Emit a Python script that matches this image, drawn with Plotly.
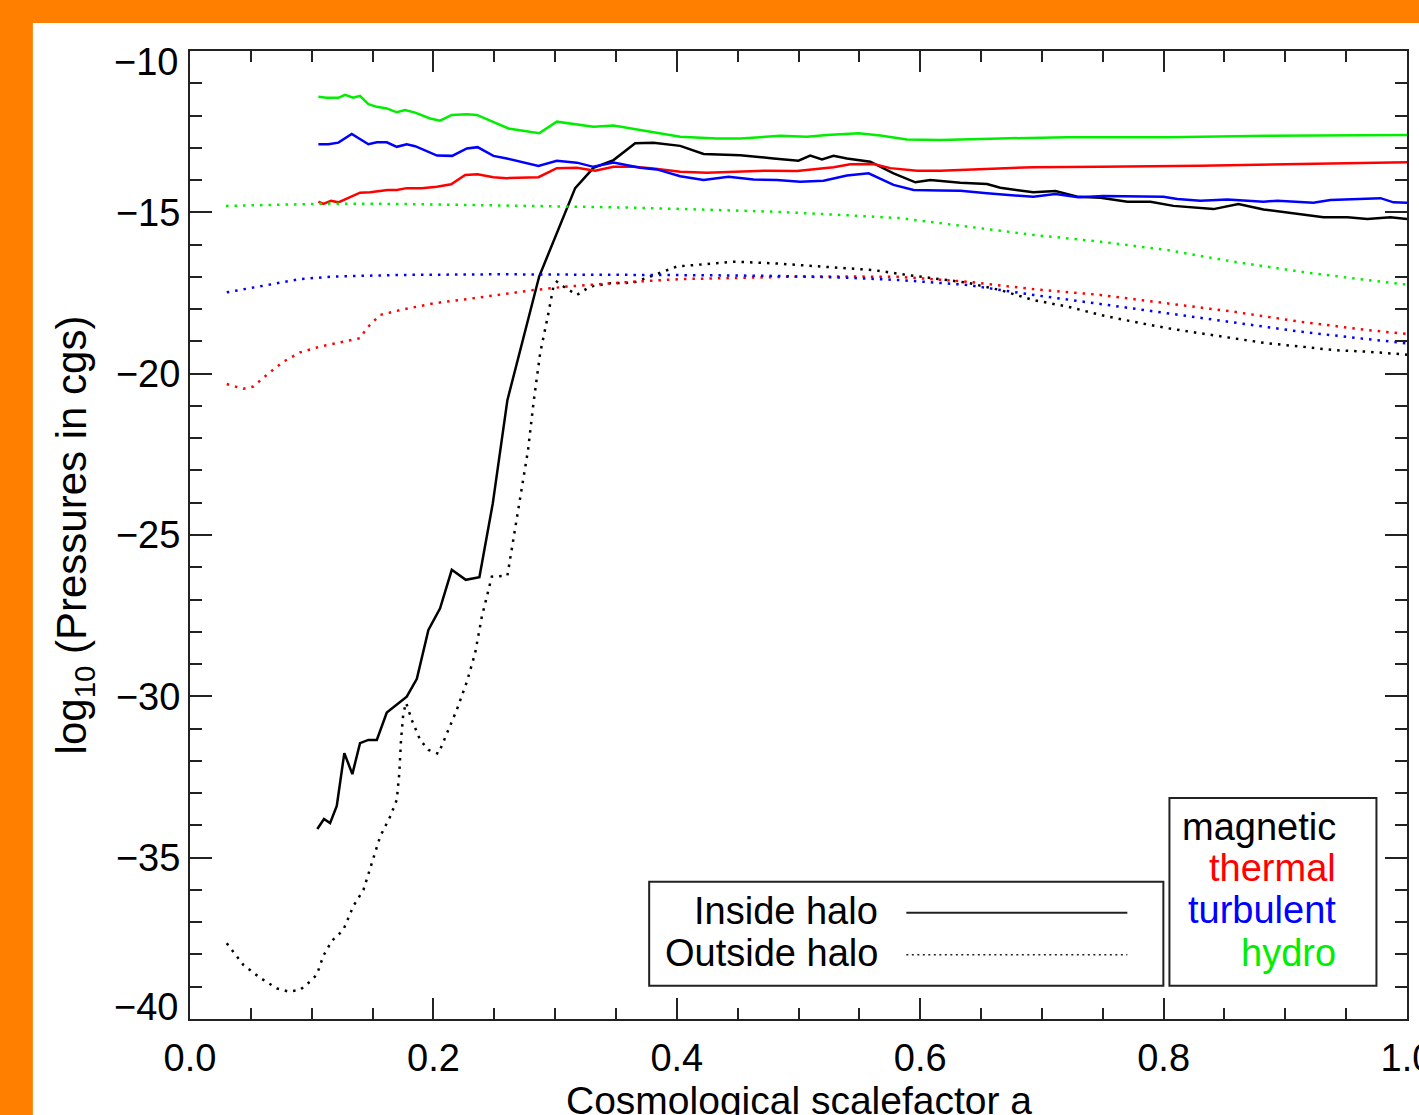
import plotly.graph_objects as go

# ---- magnetic pressure (black) ----
mag_in_a = [0.1046, 0.1101, 0.1151, 0.1206, 0.1268, 0.1334, 0.1397, 0.1466, 0.1535, 0.1617,
            0.1781, 0.1864, 0.1959, 0.2055, 0.2151, 0.2266, 0.2378, 0.2488, 0.2608, 0.2869,
            0.3165, 0.3315, 0.3480, 0.3658, 0.3808, 0.4028, 0.4220, 0.4521, 0.4795, 0.5000,
            0.5096, 0.5193, 0.5288, 0.5398, 0.5590, 0.5781, 0.5960, 0.6083, 0.6330, 0.6549,
            0.6658, 0.6930, 0.7111, 0.7300, 0.7481, 0.7703, 0.7892, 0.8081, 0.8410, 0.8615,
            0.8821, 0.9067, 0.9314, 0.9511, 0.9675, 0.9864, 1.0]
mag_in_p = [-34.11, -33.80, -33.93, -33.40, -31.76, -32.41, -31.45, -31.35, -31.35, -30.50,
            -30.01, -29.46, -27.94, -27.27, -26.08, -26.39, -26.31, -24.02, -20.82, -16.99,
            -14.25, -13.62, -13.38, -12.86, -12.84, -12.94, -13.19, -13.23, -13.33, -13.40,
            -13.24, -13.36, -13.25, -13.33, -13.43, -13.79, -14.07, -14.00, -14.08, -14.12,
            -14.24, -14.38, -14.34, -14.52, -14.55, -14.67, -14.67, -14.80, -14.90, -14.74,
            -14.91, -15.03, -15.15, -15.15, -15.21, -15.15, -15.21]

mag_out_a = [0.0302, 0.0438, 0.0575, 0.0713, 0.0808, 0.0904, 0.0986, 0.1042, 0.1096, 0.1165,
             0.1260, 0.1342, 0.1425, 0.1494, 0.1562, 0.1644, 0.1699, 0.1720, 0.1734, 0.1753,
             0.1776, 0.1822, 0.1891, 0.1959, 0.2041, 0.2123, 0.2192, 0.2275, 0.2343, 0.2398,
             0.2480, 0.2608, 0.2658, 0.2713, 0.2778, 0.2822, 0.2877, 0.2945, 0.2986, 0.3014,
             0.3069, 0.3179, 0.3288, 0.3453, 0.3644, 0.3781, 0.3918, 0.4001, 0.4247, 0.4466,
             0.4795, 0.5069, 0.5343, 0.5617, 0.5891, 0.6107, 0.6385, 0.6658, 0.6930, 0.7209,
             0.7481, 0.7752, 0.8031, 0.8303, 0.8574, 0.8853, 0.9125, 0.9396, 0.9675, 1.0]
mag_out_p = [-37.65, -38.32, -38.72, -39.05, -39.15, -39.10, -38.84, -38.63, -38.04, -37.58,
             -37.24, -36.50, -36.00, -35.15, -34.35, -33.73, -33.21, -32.38, -31.35, -30.52,
             -30.20, -30.73, -31.35, -31.66, -31.78, -31.04, -30.42, -29.55, -28.66, -27.53,
             -26.29, -26.26, -25.15, -23.81, -22.36, -20.92, -19.37, -18.13, -17.30, -17.15,
             -17.30, -17.56, -17.30, -17.20, -17.18, -16.99, -16.79, -16.68, -16.60, -16.53,
             -16.58, -16.65, -16.70, -16.79, -16.94, -17.04, -17.18, -17.41, -17.72, -17.92,
             -18.18, -18.39, -18.59, -18.75, -18.90, -19.06, -19.16, -19.27, -19.32, -19.41]

# ---- thermal pressure (red) ----
th_in_a = [0.1055, 0.1096, 0.1159, 0.1219, 0.1397, 0.1480, 0.1624, 0.1699, 0.1781, 0.1903,
           0.2028, 0.2146, 0.2261, 0.2363, 0.2493, 0.2603, 0.2863, 0.3014, 0.3179, 0.3329,
           0.3480, 0.3644, 0.3808, 0.4028, 0.4247, 0.4521, 0.4740, 0.4987, 0.5124, 0.5288,
           0.5425, 0.5617, 0.5754, 0.5974, 0.6165, 0.6494, 0.6930, 0.7481, 0.8303, 0.9125, 1.0]
th_in_p = [-14.67, -14.74, -14.64, -14.69, -14.39, -14.38, -14.31, -14.31, -14.25, -14.25,
           -14.21, -14.13, -13.84, -13.82, -13.91, -13.94, -13.91, -13.63, -13.62, -13.71,
           -13.59, -13.59, -13.64, -13.74, -13.77, -13.74, -13.71, -13.72, -13.66, -13.60,
           -13.51, -13.50, -13.63, -13.71, -13.71, -13.66, -13.60, -13.59, -13.56, -13.50, -13.45]

th_out_a = [0.0302, 0.0438, 0.0520, 0.0630, 0.0767, 0.0904, 0.1069, 0.1178, 0.1397, 0.1453,
            0.1562, 0.1726, 0.2000, 0.2275, 0.2548, 0.2822, 0.3097, 0.3644, 0.4028, 0.4521,
            0.5014, 0.5425, 0.5836, 0.6385, 0.6930, 0.7481, 0.8031, 0.8574, 0.9125, 0.9675, 1.0]
th_out_p = [-20.32, -20.47, -20.40, -20.04, -19.63, -19.34, -19.16, -19.08, -18.90, -18.59,
            -18.18, -18.03, -17.82, -17.69, -17.54, -17.41, -17.30, -17.15, -17.07, -17.02,
            -16.99, -16.99, -17.00, -17.15, -17.38, -17.56, -17.82, -18.08, -18.39, -18.65, -18.77]

# ---- turbulent pressure (blue) ----
tu_in_a = [0.1055, 0.1137, 0.1219, 0.1329, 0.1466, 0.1535, 0.1617, 0.1699, 0.1781, 0.1850,
           0.2030, 0.2154, 0.2275, 0.2363, 0.2493, 0.2603, 0.2863, 0.3014, 0.3179, 0.3315,
           0.3480, 0.3699, 0.3836, 0.4028, 0.4220, 0.4425, 0.4631, 0.4823, 0.5014, 0.5206,
           0.5398, 0.5576, 0.5781, 0.5946, 0.6165, 0.6330, 0.6549, 0.6930, 0.7111, 0.7300,
           0.7505, 0.7998, 0.8113, 0.8303, 0.8524, 0.8714, 0.8821, 0.8936, 0.9231, 0.9371,
           0.9782, 0.9889, 1.0]
tu_in_p = [-12.89, -12.89, -12.84, -12.57, -12.89, -12.83, -12.83, -12.97, -12.89, -12.95,
           -13.24, -13.25, -13.02, -12.98, -13.25, -13.33, -13.56, -13.40, -13.46, -13.59,
           -13.46, -13.62, -13.67, -13.88, -14.00, -13.90, -13.98, -14.00, -14.05, -14.02,
           -13.86, -13.79, -14.15, -14.31, -14.32, -14.33, -14.41, -14.52, -14.43, -14.53,
           -14.49, -14.52, -14.59, -14.64, -14.60, -14.64, -14.67, -14.64, -14.70, -14.62,
           -14.56, -14.69, -14.70]

tu_out_a = [0.0302, 0.0630, 0.0904, 0.1178, 0.1726, 0.2548, 0.3097, 0.3699, 0.4247, 0.4795,
            0.5343, 0.5836, 0.6385, 0.6930, 0.7481, 0.8031, 0.8574, 0.9125, 0.9675, 1.0]
tu_out_p = [-17.48, -17.25, -17.07, -16.99, -16.94, -16.92, -16.94, -16.94, -16.95, -16.97,
            -17.02, -17.10, -17.25, -17.56, -17.84, -18.13, -18.42, -18.70, -18.93, -19.06]

# ---- hydro pressure (green) ----
hy_in_a = [0.1055, 0.1124, 0.1219, 0.1274, 0.1342, 0.1397, 0.1466, 0.1535, 0.1617, 0.1699,
           0.1767, 0.1850, 0.1973, 0.2055, 0.2151, 0.2275, 0.2357, 0.2548, 0.2617, 0.2869,
           0.3014, 0.3315, 0.3480, 0.3699, 0.4028, 0.4330, 0.4521, 0.4850, 0.5069, 0.5234,
           0.5494, 0.5672, 0.5891, 0.6165, 0.6494, 0.6658, 0.7209, 0.8031, 0.8853, 1.0]
hy_in_p = [-11.42, -11.45, -11.45, -11.36, -11.45, -11.39, -11.65, -11.73, -11.78, -11.90,
           -11.83, -11.91, -12.09, -12.16, -11.98, -11.96, -11.98, -12.29, -12.40, -12.55,
           -12.19, -12.35, -12.31, -12.45, -12.66, -12.71, -12.71, -12.63, -12.66, -12.60,
           -12.55, -12.62, -12.74, -12.76, -12.74, -12.71, -12.67, -12.67, -12.63, -12.60]

hy_out_a = [0.0296, 0.0904, 0.1151, 0.1726, 0.2548, 0.3097, 0.3699, 0.4247, 0.4795, 0.5343,
            0.5836, 0.6385, 0.6930, 0.7481, 0.8031, 0.8574, 0.9125, 0.9675, 1.0]
hy_out_p = [-14.80, -14.75, -14.73, -14.74, -14.80, -14.82, -14.86, -14.93, -14.98, -15.08,
            -15.18, -15.44, -15.70, -15.91, -16.17, -16.53, -16.84, -17.10, -17.24]

x_ticks = [0.0, 0.2, 0.4, 0.6, 0.8, 1.0]
y_ticks = [-40, -35, -30, -25, -20, -15, -10]

FONT = "Liberation Sans, Arial, Helvetica, sans-serif"
DOTS = "2.5px,6px"

fig = go.Figure()

series = [
    (mag_in_a, mag_in_p, "black", "solid"),
    (th_in_a, th_in_p, "#ff0000", "solid"),
    (tu_in_a, tu_in_p, "#0000ff", "solid"),
    (hy_in_a, hy_in_p, "#00ee00", "solid"),
    (mag_out_a, mag_out_p, "black", DOTS),
    (th_out_a, th_out_p, "#ff0000", DOTS),
    (tu_out_a, tu_out_p, "#0000ff", DOTS),
    (hy_out_a, hy_out_p, "#00ee00", DOTS),
]
for a, p, col, dash in series:
    fig.add_trace(go.Scatter(x=a, y=p, mode="lines",
                             line=dict(color=col, width=2.5, dash=dash),
                             showlegend=False, hoverinfo="skip"))

axis_common = dict(
    showline=True, linewidth=2, linecolor="#222", mirror="ticks",
    ticks="inside", tickwidth=2, tickcolor="#222",
    showgrid=False, zeroline=False, automargin=False,
    ticklabeloverflow="allow",
    tickfont=dict(family=FONT, size=38, color="black"),
)

fig.update_xaxes(
    range=[0, 1.0], tickvals=x_ticks, tickformat=".1f", ticklen=21,
    ticklabelstandoff=4,
    minor=dict(ticks="inside", ticklen=11, tickwidth=2, tickcolor="#222",
               tickmode="linear", tick0=0, dtick=0.05, showgrid=False),
    **axis_common,
)
fig.update_yaxes(
    range=[-40, -10], tickvals=y_ticks,
    ticktext=["" if v in (-40, -10) else "\u2212" + str(abs(v)) for v in y_ticks],
    ticklen=22,
    minor=dict(ticks="inside", ticklen=12, tickwidth=2, tickcolor="#222",
               tickmode="linear", tick0=-40, dtick=1, showgrid=False),
    title=dict(text="log<sub>10</sub> (Pressures in cgs)",
               font=dict(family=FONT, size=42, color="black"), standoff=16),
    **axis_common,
)

annotations = [
    # x-axis title, running off the bottom edge of the page
    dict(x=0.5, xref="paper", y=-0.0599, yref="paper", text="Cosmological scalefactor a",
         showarrow=False, xanchor="center", yanchor="top",
         font=dict(family=FONT, size=39, color="black")),
    # end labels of the y axis, nudged inward
    dict(x=0, xref="paper", y=-10, yref="y", text="\u221210", showarrow=False,
         xanchor="right", yanchor="middle", xshift=-10, yshift=-11,
         font=dict(family=FONT, size=38, color="black")),
    dict(x=0, xref="paper", y=-40, yref="y", text="\u221240", showarrow=False,
         xanchor="right", yanchor="middle", xshift=-10, yshift=12,
         font=dict(family=FONT, size=38, color="black")),
]

# legend for line styles
legend_rows = [("Inside halo", -36.65, "solid"), ("Outside halo", -37.95, "2px,3.5px")]
shapes = [
    dict(type="rect", xref="x", yref="y", x0=0.3773, x1=0.7998, y0=-35.75, y1=-38.97,
         line=dict(color="#222", width=2), fillcolor="white", layer="above"),
    dict(type="rect", xref="x", yref="y", x0=0.8048, x1=0.9749, y0=-33.15, y1=-38.97,
         line=dict(color="#222", width=2), fillcolor="white", layer="above"),
]
for label, yv, dash in legend_rows:
    annotations.append(dict(x=0.5672, y=yv, xref="x", yref="y", text=label, showarrow=False,
                            xanchor="right", yanchor="middle",
                            font=dict(family=FONT, size=38, color="black")))
    shapes.append(dict(type="line", xref="x", yref="y", x0=0.5886, x1=0.7702, y0=yv - 0.06,
                       y1=yv - 0.06, line=dict(color="#222", width=2 if dash == "solid" else 1.6,
                                               dash=dash), layer="above"))

# legend for colours
colour_rows = [("magnetic", "black", -34.05), ("thermal", "#ff0000", -35.32),
               ("turbulent", "#0000ff", -36.62), ("hydro", "#00ee00", -37.95)]
for label, col, yv in colour_rows:
    annotations.append(dict(x=0.9437, y=yv, xref="x", yref="y", text=label, showarrow=False,
                            xanchor="right", yanchor="middle",
                            font=dict(family=FONT, size=38, color=col)))

# orange frame on the top and left edges
ORANGE = "#ff8000"
shapes += [
    dict(type="rect", xref="paper", yref="paper", x0=-0.3, x1=1.3, y0=1.0289, y1=1.2,
         fillcolor=ORANGE, line=dict(width=0), layer="above"),
    dict(type="rect", xref="paper", yref="paper", x0=-0.3, x1=-0.1291, y0=-0.3, y1=1.2,
         fillcolor=ORANGE, line=dict(width=0), layer="above"),
]

fig.update_layout(
    width=1419, height=1115,
    margin=dict(l=190, r=12, t=51, b=96),
    paper_bgcolor="white", plot_bgcolor="white",
    font=dict(family=FONT, color="black"),
    shapes=shapes, annotations=annotations,
)

fig.write_html("out.html")
